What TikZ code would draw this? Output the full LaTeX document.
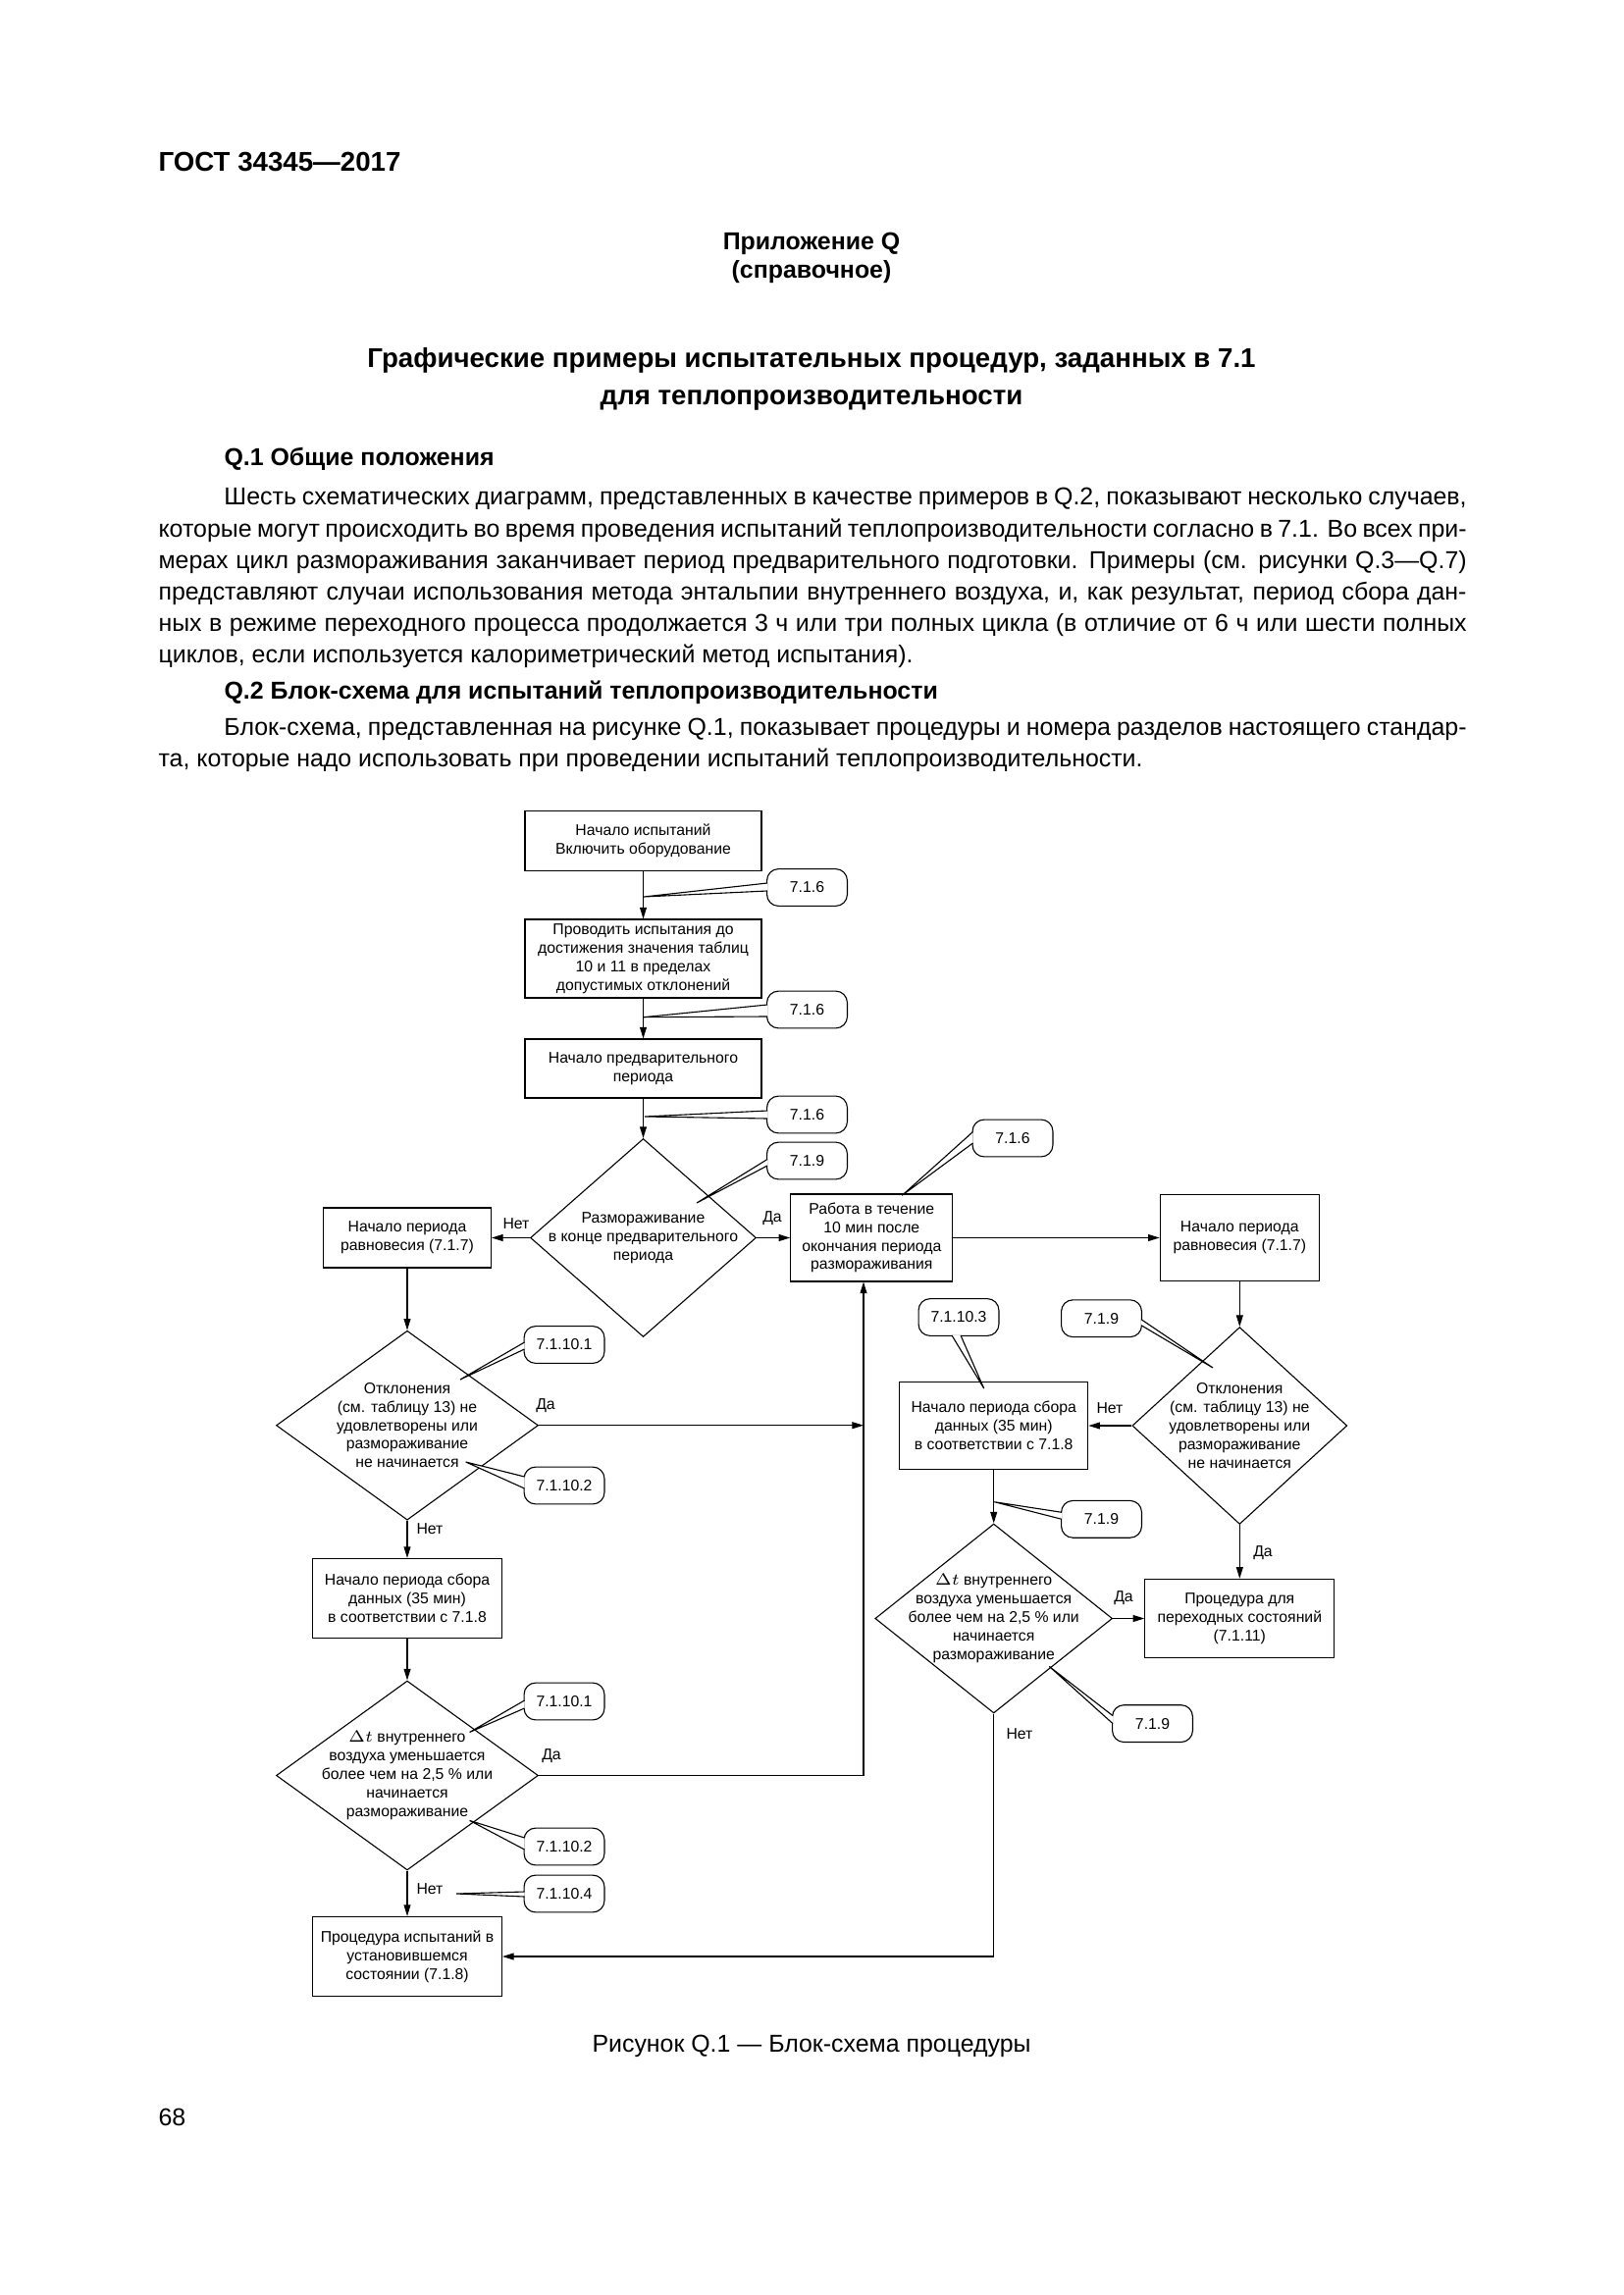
\documentclass[tikz,border=0pt]{standalone}
\usepackage{fontspec}
\setmainfont{Liberation Sans}
\usepackage{tikz}
\usetikzlibrary{positioning,shapes.geometric,arrows.meta,calc}

\newcommand{\chartfont}{\fontsize{5.7}{6.8}\selectfont}
\newcommand{\bodyfont}{\fontsize{9}{11.6}\selectfont}
\newcommand{\gostfont}{\fontsize{10}{12}\selectfont}
% tail of a callout: node anchor, two base offsets, tip
\newcommand{\calltail}[4]{\draw[fill=white] ($(#1)+#2$) -- #4 -- ($(#1)+#3$);}
\hyphenpenalty=10000

\begin{document}
\begin{tikzpicture}[x=0.127mm, y=-0.127mm, thin, >={Triangle[length=4.2pt,width=2.5pt]},
    every node/.style={font=\chartfont},
    box/.style={draw, align=center, inner sep=1pt},
    dia/.style={draw, diamond, inner sep=0pt},
    ref/.style={draw, fill=white, rounded corners=1.5mm, minimum width=10.4mm, minimum height=4.8mm, inner sep=0pt},
    lbl/.style={inner sep=0pt},
    head/.style={font=\bodyfont\bfseries, inner sep=0pt},
    body/.style={font=\bodyfont, inner sep=0pt, anchor=base west, text width=169.3mm, align=justify}]
    \useasboundingbox (0,0) rectangle (1654,2339);

    % page text
    \node[head, font=\gostfont\bfseries, anchor=base west] (gost) at (161,175) {ГОСТ 34345—2017};
    \node[head, anchor=base] (app) at (827,255) {Приложение Q};
    \node[head, anchor=base] (kind) at (827,284) {(справочное)};
    \node[head, font=\gostfont\bfseries, anchor=base] (title1) at (827,375) {Графические примеры испытательных процедур, заданных в 7.1};
    \node[head, font=\gostfont\bfseries, anchor=base] (title2) at (827,413) {для теплопроизводительности};
    \node[head, anchor=base west] (q1) at (228,475) {Q.1 Общие положения};
    \node[body] (par1) at (161,515) {\hspace*{8.5mm}Шесть схематических диаграмм, представленных в качестве примеров в Q.2, показывают несколько случаев,\linebreak
      которые могут происходить во время проведения испытаний теплопроизводительности согласно в 7.1. Во всех при-\linebreak
      мерах цикл размораживания заканчивает период предварительного подготовки. Примеры (см. рисунки Q.3—Q.7)\linebreak
      представляют случаи использования метода энтальпии внутреннего воздуха, и, как результат, период сбора дан-\linebreak
      ных в режиме переходного процесса продолжается 3 ч или три полных цикла (в отличие от 6 ч или шести полных\linebreak
      циклов, если используется калориметрический метод испытания).};
    \node[head, anchor=base west] (q2) at (228,712) {Q.2 Блок-схема для испытаний теплопроизводительности};
    \node[body] (par2) at (161,749.5) {\hspace*{8.5mm}Блок-схема, представленная на рисунке Q.1, показывает процедуры и номера разделов настоящего стандар-\linebreak
      та, которые надо использовать при проведении испытаний теплопроизводительности.};
    \node[font=\bodyfont, inner sep=0pt, anchor=base] (cap) at (827,2091) {Рисунок Q.1 — Блок-схема процедуры};
    \node[font=\bodyfont, inner sep=0pt, anchor=base west] (page) at (161,2166) {68};

    % centre column
    \node[box, minimum width=30.6mm, minimum height=7.75mm] (start) at (655.5,857) {Начало испытаний\\Включить оборудование};
    \node[box, minimum width=30.6mm, minimum height=10.16mm] (run) at (655.5,977) {Проводить испытания до\\достижения значения таблиц\\10 и 11 в пределах\\допустимых отклонений};
    \node[box, minimum width=30.6mm, minimum height=7.62mm] (pre) at (655.5,1089) {Начало предварительного\\периода};
    \node[dia, minimum width=29.2mm, minimum height=25.65mm] (thaw) at (655.5,1261.5) {};
    \node[align=center] (thawtxt) at (thaw) {Размораживание\\в конце предварительного\\периода};
    \node[box, minimum width=20.96mm, minimum height=11.3mm] (work) at (888.3,1261.5) {Работа в течение\\10 мин после\\окончания периода\\размораживания};

    % left column
    \node[box, minimum width=21.7mm, minimum height=7.75mm] (eqL) at (415,1261.5) {Начало периода\\равновесия (7.1.7)};
    \node[dia, minimum width=33.9mm, minimum height=24.5mm] (devL) at (415,1452.7) {};
    \node[align=center] (devLtxt) at (devL) {Отклонения\\(см. таблицу 13) не\\удовлетворены или\\размораживание\\не начинается};
    \node[box, minimum width=24.5mm, minimum height=10.3mm] (dataL) at (415,1629) {Начало периода сбора\\данных (35 мин)\\в соответствии с 7.1.8};
    \node[dia, minimum width=33.9mm, minimum height=24.5mm] (dtL) at (415,1809.5) {};
    \node[align=center] (dtLtxt) at (dtL) {$\Delta t$ внутреннего\\воздуха уменьшается\\более чем на 2,5~\% или\\начинается\\размораживание};
    \node[box, minimum width=24.5mm, minimum height=10.3mm] (steady) at (415,1994) {Процедура испытаний в\\установившемся\\состоянии (7.1.8)};

    % right columns
    \node[box, minimum width=20.6mm, minimum height=11.2mm] (eqR) at (1263.3,1261.5) {Начало периода\\равновесия (7.1.7)};
    \node[dia, minimum width=27.8mm, minimum height=25.5mm] (devR) at (1263.3,1453) {};
    \node[align=center] (devRtxt) at (devR) {Отклонения\\(см. таблицу 13) не\\удовлетворены или\\размораживание\\не начинается};
    \node[box, minimum width=24.4mm, minimum height=11.4mm] (dataR) at (1012.7,1453) {Начало периода сбора\\данных (35 мин)\\в соответствии с 7.1.8};
    \node[dia, minimum width=30.7mm, minimum height=24.5mm] (dtR) at (1012.7,1649.5) {};
    \node[align=center] (dtRtxt) at (dtR) {$\Delta t$ внутреннего\\воздуха уменьшается\\более чем на 2,5~\% или\\начинается\\размораживание};
    \node[box, minimum width=24.5mm, minimum height=10.2mm] (trans) at (1263.3,1649.5) {Процедура для\\переходных состояний\\(7.1.11)};

    % connectors
    \coordinate (joinL) at (880,1452.7);
    \coordinate (joinR) at (880,1809.5);
    \draw[->] (start) -- (run);
    \draw[->] (run) -- (pre);
    \draw[->] (pre) -- (thaw);
    \draw[->] (thaw) -- (eqL);
    \draw[->] (thaw) -- (work);
    \draw[->] (work) -- (eqR);
    \draw[->] (eqL) -- (devL);
    \draw[->] (devL) -- (joinL);
    \draw[->] (devL) -- (dataL);
    \draw[->] (dataL) -- (dtL);
    \draw[->] (dtL) -- (joinR) -- (joinR |- work.south);
    \draw[->] (dtL) -- (steady);
    \draw[->] (eqR) -- (devR);
    \draw[->] (devR) -- (dataR);
    \draw[->] (devR) -- (trans);
    \draw[->] (dataR) -- (dtR);
    \draw[->] (dtR) -- (trans);
    \draw[->] (dtR) |- (steady);

    % yes / no
    \node[lbl] (no1) at (526,1247) {Нет};
    \node[lbl] (yes1) at (787,1242) {Да};
    \node[lbl] (yes2) at (556,1433) {Да};
    \node[lbl] (no2) at (438,1558) {Нет};
    \node[lbl] (yes3) at (562,1790) {Да};
    \node[lbl] (no3) at (438,1925) {Нет};
    \node[lbl] (no4) at (1131,1435) {Нет};
    \node[lbl] (yes4) at (1287,1583) {Да};
    \node[lbl] (yes5) at (1145,1629) {Да};
    \node[lbl] (no5) at (1039,1767) {Нет};

    % clause references
    \node[ref] (c1) at (822.5,904.5) {7.1.6};
    \node[ref] (c2) at (822.5,1029) {7.1.6};
    \node[ref] (c3) at (822.5,1136) {7.1.6};
    \node[ref] (c4) at (822.5,1183) {7.1.9};
    \node[ref] (c5) at (1032,1160) {7.1.6};
    \node[ref] (c6) at (575,1370.5) {7.1.10.1};
    \node[ref] (c7) at (575,1514) {7.1.10.2};
    \node[ref] (c8) at (575,1734) {7.1.10.1};
    \node[ref] (c9) at (575,1882) {7.1.10.2};
    \node[ref] (c10) at (575,1930) {7.1.10.4};
    \node[ref] (c11) at (977,1342.5) {7.1.10.3};
    \node[ref] (c12) at (1122.5,1343.7) {7.1.9};
    \node[ref] (c13) at (1122.5,1548.3) {7.1.9};
    \node[ref] (c14) at (1174.5,1756.6) {7.1.9};
    \calltail{c1.west}{(1,-4.5)}{(1,3.5)}{(656,914)}
    \calltail{c2.west}{(1,-5)}{(1,7)}{(656,1036.7)}
    \calltail{c3.west}{(1,-4)}{(1,4)}{(657,1138)}
    \calltail{c4.west}{(1,-1.5)}{(1,5)}{(710,1226)}
    \calltail{c5.west}{(1,-6.5)}{(1,5)}{(919.3,1218.3)}
    \calltail{c6.west}{(1,-2.5)}{(1,4.5)}{(469,1406)}
    \calltail{c7.west}{(1,-9)}{(1,3)}{(474.7,1490)}
    \calltail{c8.west}{(1,-1)}{(1,7)}{(478.6,1765.4)}
    \calltail{c9.west}{(1,-9)}{(1,3)}{(478.6,1855.4)}
    \calltail{c10.west}{(1,-2)}{(1,3)}{(465,1930)}
    \calltail{c11.south}{(-7,-1)}{(2,-1)}{(1002.7,1415)}
    \calltail{c12.east}{(-1,1)}{(-1,7)}{(1236,1394)}
    \calltail{c13.west}{(1,-7)}{(1,0)}{(1013.3,1530.7)}
    \calltail{c14.west}{(1,-8)}{(1,0)}{(1069.3,1698.4)}
  \end{tikzpicture}
\end{document}
